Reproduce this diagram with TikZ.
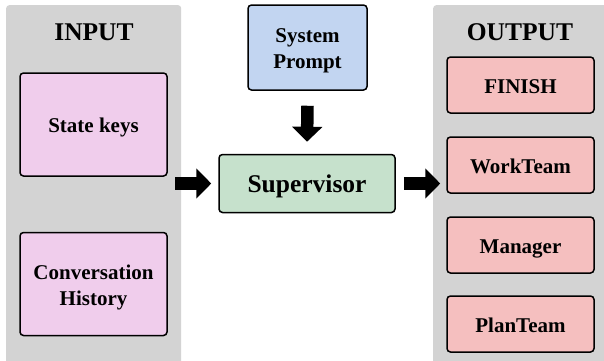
\documentclass[tikz,border=0pt]{standalone}
\usepackage{fontspec}
\setmainfont{Liberation Serif}
\usetikzlibrary{arrows.meta,calc}
\definecolor{panelgray}{HTML}{D3D3D3}
\definecolor{inpink}{HTML}{F0CDEC}
\definecolor{promptblue}{HTML}{C2D5F1}
\definecolor{supgreen}{HTML}{C6E1CC}
\definecolor{outred}{HTML}{F5BFBF}
\newcommand{\dnt}[1]{\raisebox{-3pt}[\height][\depth]{\begin{tabular}{@{}c@{}}#1\end{tabular}}}
\tikzset{
  panel/.style={fill=panelgray, draw=none, rounded corners=3pt, inner sep=0pt, anchor=north west},
  header/.style={font=\fontsize{25.5}{30}\selectfont\bfseries, inner sep=0pt},
  box/.style={draw=black, line width=1.5pt, rounded corners=3.5pt, inner sep=0pt, align=center,
    font=\fontsize{21}{26}\selectfont\bfseries},
  inbox/.style={box, fill=inpink, minimum width=147pt, minimum height=103pt},
  outbox/.style={box, fill=outred, minimum width=147pt, minimum height=56pt},
  fatarrow/.style={line width=12.5pt, -{Triangle[width=29.5pt,length=15pt]}},
}
\begin{document}
\begin{tikzpicture}[x=1pt,y=-1pt]
\useasboundingbox (0,0) rectangle (604,360);
% panels
\node[panel, minimum width=175pt, minimum height=365pt] (inpanel) at (6,5) {};
\node[panel, minimum width=180pt, minimum height=365pt] (outpanel) at (433,5) {};
\node[header] (inlabel) at (94,32) {INPUT};
\node[header] (outlabel) at (520,32) {OUTPUT};
% input boxes
\node[inbox] (state) at (93.5,124.5) {\dnt{State keys}};
\node[inbox] (conv) at (93.5,284) {\dnt{Conversation\\History}};
% centre
\node[box, fill=promptblue, minimum width=119pt, minimum height=85pt] (prompt) at (307.5,47.5) {\dnt{System\\Prompt}};
\node[box, fill=supgreen, minimum width=176pt, minimum height=58pt, font=\fontsize{25.5}{30}\selectfont\bfseries] (sup) at (307,183.5) {\dnt{Supervisor}};
% output boxes
\node[outbox] (finish) at (520.5,85) {\dnt{FINISH}};
\node[outbox] (work) at (520.5,165) {\dnt{WorkTeam}};
\node[outbox] (manager) at (520.5,245) {\dnt{Manager}};
\node[outbox] (plan) at (520.5,324) {\dnt{PlanTeam}};
% arrows
\draw[fatarrow] ($(inpanel.east |- sup.west)+(-6,0)$) -- ($(sup.west)+(-7,0)$);
\draw[fatarrow] ($(sup.east)+(8,0)$) -- ($(work.west |- sup.east)+(-6,0)$);
\draw[fatarrow] ($(prompt.south)+(0,15)$) -- ($(sup.north)+(0,-12)$);
\end{tikzpicture}
\end{document}
